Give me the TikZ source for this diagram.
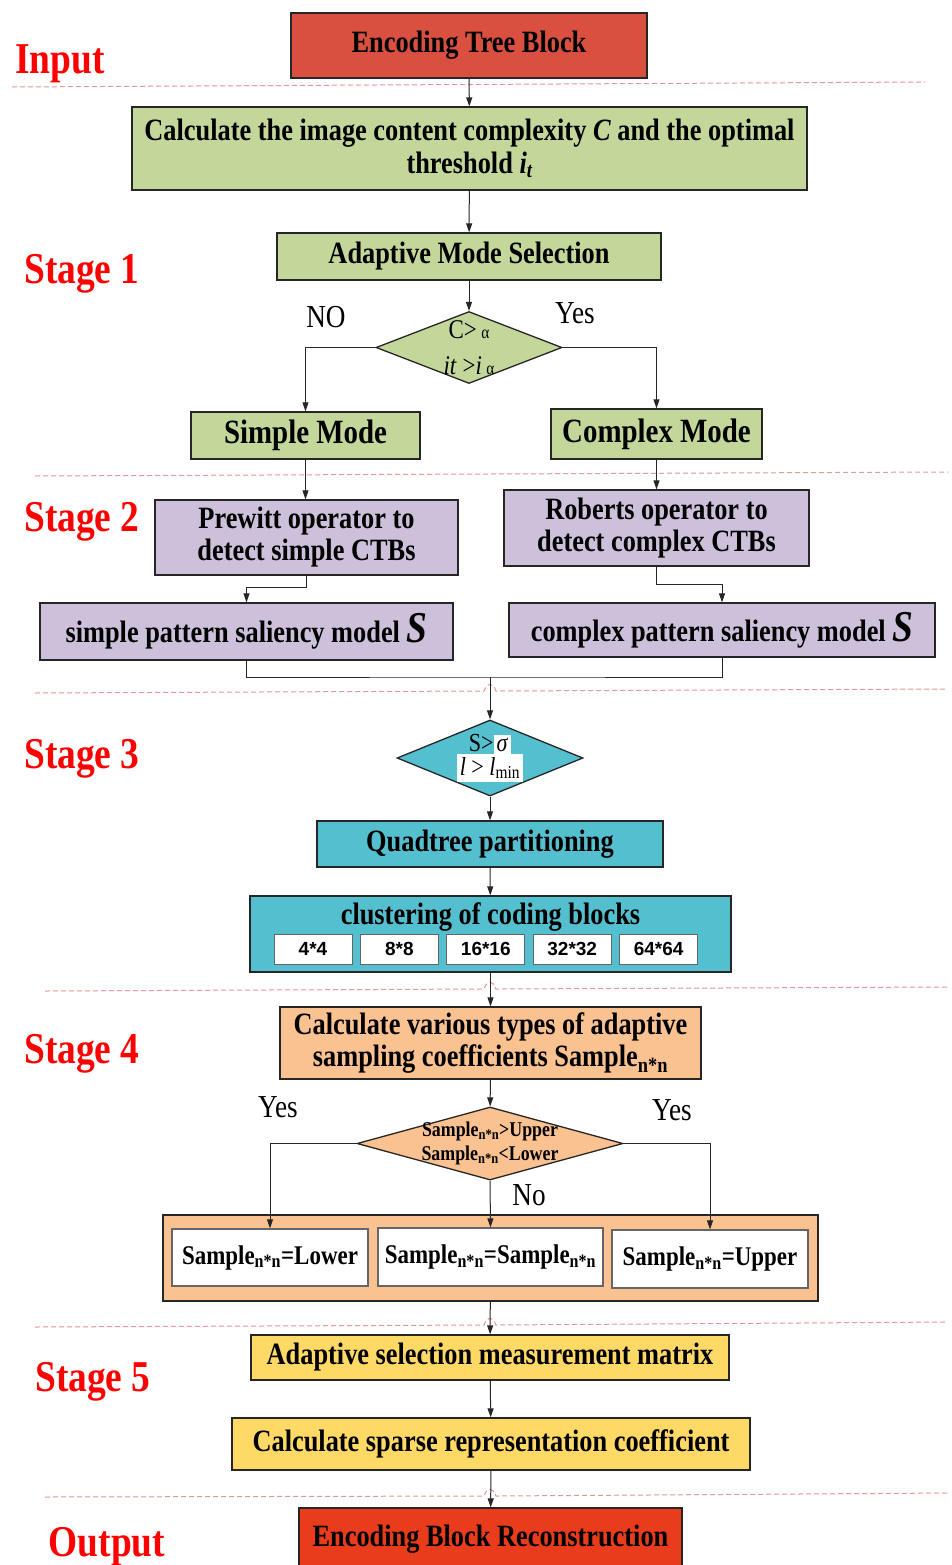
\documentclass[tikz,border=0pt]{standalone}
\usepackage{fontspec}
\setmainfont{Liberation Serif}[FakeStretch=0.85]
\newfontfamily\cellfont{Liberation Sans}
\usetikzlibrary{shapes.geometric, arrows.meta, positioning}

\definecolor{inred}{RGB}{217,80,64}
\definecolor{stgreen}{RGB}{196,215,155}
\definecolor{stpurple}{RGB}{204,192,218}
\definecolor{stblue}{RGB}{84,191,206}
\definecolor{stpeach}{RGB}{250,193,145}
\definecolor{styellow}{RGB}{255,217,102}
\definecolor{outred}{RGB}{232,60,28}
\definecolor{sepline}{RGB}{232,150,150}

\tikzset{
  box/.style={draw=black!85, line width=1.3pt, align=center, inner sep=0pt,
    font=\bfseries\fontsize{31}{32}\selectfont},
  dia/.style={diamond, draw=black!85, line width=1.3pt, inner sep=0pt},
  cell/.style={draw=black!60, line width=1pt, fill=white, minimum width=78,
    minimum height=30, inner sep=0pt, font=\cellfont\bfseries\fontsize{19}{20}\selectfont},
  stage/.style={text=red, font=\bfseries\fontsize{44}{44}\selectfont},
  ans/.style={font=\fontsize{32}{32}\selectfont},
  arr/.style={-{Triangle[length=9pt,width=6pt]}, line width=1pt, black!85},
  link/.style={line width=1pt, black!85},
  sep/.style={sepline, line width=1pt, dash pattern=on 5pt off 3pt}
}

\begin{document}
\begin{tikzpicture}[x=1pt, y=-1pt]
\fill[white] (0,0) rectangle (952,1565);
\useasboundingbox (0,0) rectangle (952,1565);

% separators between the stages
\draw[sep] (12,87) -- (925,82);
\draw[sep] (35,476) -- (948,472);
\draw[sep] (35,693) -- (484,691) .. controls (487,682) and (493,682) .. (496,691) -- (948,689);
\draw[sep] (45,991) -- (484,989) .. controls (487,980) and (493,980) .. (496,989) -- (948,987);
\draw[sep] (35,1327) -- (484,1325) .. controls (487,1316) and (493,1316) .. (496,1325) -- (948,1322);
\draw[sep] (45,1497) -- (484,1496) .. controls (487,1487) and (493,1487) .. (496,1496) -- (948,1493);

% stage names
\node[stage] (lin) at (60,64) {Input};
\node[stage] (ls1) at (82,274) {Stage 1};
\node[stage] (ls2) at (82,522) {Stage 2};
\node[stage] (ls3) at (82,759) {Stage 3};
\node[stage] (ls4) at (82,1054) {Stage 4};
\node[stage] (ls5) at (93,1382) {Stage 5};
\node[stage] (lout) at (107,1547) {Output};

% input and stage 1
\node[box, fill=inred, minimum width=356, minimum height=65] (etb) at (469,45.5) {Encoding Tree Block};
\node[box, fill=stgreen, minimum width=675, minimum height=83,
  font=\bfseries\fontsize{31}{33}\selectfont] (calc) at (469.5,148.5)
  {Calculate the image content complexity \textit{C} and the optimal\\threshold \textit{i\textsubscript{t}}};
\node[box, fill=stgreen, minimum width=384, minimum height=47] (ams) at (469,256.5) {Adaptive Mode Selection};
\node[dia, fill=stgreen, minimum width=186, minimum height=72,
  label={[font=\fontsize{27}{36}\selectfont, align=center]center:{C>\,{\fontsize{18}{18}\selectfont α}\\\textit{it} >\textit{i}\,{\fontsize{18}{18}\selectfont α}}}] (d1) at (469,347.5) {};
\node[ans] (no1) at (326,317) {NO};
\node[ans] (yes1) at (575,313) {Yes};
\node[box, fill=stgreen, minimum width=229, minimum height=47,
  font=\bfseries\fontsize{34}{34}\selectfont] (simple) at (305.5,435.5) {Simple Mode};
\node[box, fill=stgreen, minimum width=211, minimum height=50,
  font=\bfseries\fontsize{34}{34}\selectfont] (complex) at (656.5,434) {Complex Mode};

% stage 2
\node[box, fill=stpurple, minimum width=303, minimum height=75] (prewitt) at (306.5,537.5) {Prewitt operator to\\detect simple CTBs};
\node[box, fill=stpurple, minimum width=305, minimum height=76] (roberts) at (656.5,528) {Roberts operator to\\detect complex CTBs};
\node[box, fill=stpurple, minimum width=413, minimum height=57] (spm) at (246.5,631.5)
  {simple pattern saliency model \textit{\fontsize{44}{44}\selectfont S}};
\node[box, fill=stpurple, minimum width=426, minimum height=54] (cpm) at (722,630)
  {complex pattern saliency model \textit{\fontsize{44}{44}\selectfont S}};
\coordinate (mrg) at (490,677);

% stage 3
\node[dia, fill=stblue, minimum width=186, minimum height=76,
  label={[font=\fontsize{26}{28}\selectfont, align=center, inner sep=0pt]center:{S>\colorbox{white}{\textit{σ}}\\[-4pt]\colorbox{white}{\textit{l} > \textit{l}\textsubscript{min}}}}] (d2) at (490,758) {};
\node[box, fill=stblue, minimum width=346, minimum height=46] (quad) at (490,844) {Quadtree partitioning};
\node[box, fill=stblue, minimum width=481, minimum height=76] (clus) at (490.5,934) {};
\node[font=\bfseries\fontsize{31}{32}\selectfont] (clustxt) at (490.5,917) {clustering of coding blocks};
\foreach \t [count=\i] in {4*4,8*8,16*16,32*32,64*64}
  \node[cell] (c\i) at ({313+86.4*(\i-1)},949) {\t};

% stage 4
\node[box, fill=stpeach, minimum width=421, minimum height=72] (cvt) at (490.5,1043)
  {Calculate various types of adaptive\\sampling coefficients Sample\textsubscript{n*n}};
\node[dia, fill=stpeach, minimum width=266, minimum height=73,
  label={[font=\bfseries\fontsize{21}{24}\selectfont, align=center]center:{Sample\textsubscript{n*n}>Upper\\Sample\textsubscript{n*n}<Lower}}] (d3) at (490,1143.5) {};
\node[ans] (yes2) at (278,1107) {Yes};
\node[ans] (yes3) at (672,1110) {Yes};
\node[ans] (no2) at (529,1195) {No};
\node[box, fill=stpeach, minimum width=655, minimum height=86] (cont) at (490.5,1258) {};
\node[box, fill=white, draw=black!60, minimum width=196, minimum height=57,
  font=\bfseries\fontsize{27}{28}\selectfont] (lower) at (270,1257.5) {Sample\textsubscript{n*n}=Lower};
\node[box, fill=white, draw=black!60, minimum width=225, minimum height=58,
  font=\bfseries\fontsize{27}{28}\selectfont] (mid) at (490.5,1257) {Sample\textsubscript{n*n}=Sample\textsubscript{n*n}};
\node[box, fill=white, draw=black!60, minimum width=196, minimum height=58,
  font=\bfseries\fontsize{27}{28}\selectfont] (upper) at (710,1259) {Sample\textsubscript{n*n}=Upper};

% stage 5 and output
\node[box, fill=styellow, minimum width=478, minimum height=45] (asm) at (490,1357.5) {Adaptive selection measurement matrix};
\node[box, fill=styellow, minimum width=518, minimum height=52] (csr) at (491,1444) {Calculate sparse representation coefficient};
\node[box, fill=outred, minimum width=383, minimum height=62] (out) at (490.5,1539) {Encoding Block Reconstruction};

% connectors
\draw[arr] (etb) -- (calc);
\draw[arr] (calc) -- (ams);
\draw[arr] (ams) -- (d1);
\draw[arr] (d1.west) -| (simple.north);
\draw[arr] (d1.east) -| (complex.north);
\draw[arr] (simple.south) -- (simple.south |- prewitt.north);
\draw[arr] (complex.south) -- (complex.south |- roberts.north);
\draw[arr] (prewitt.south) -- ++(0,12) -| (spm.north);
\draw[arr] (roberts.south) -- ++(0,18) -| (cpm.north);
\draw[link] (spm.south) |- (mrg) -| (cpm.south);
\draw[arr] (mrg) -- (d2.north);
\draw[arr] (d2) -- (quad);
\draw[arr] (quad) -- (clus);
\draw[arr] (clus) -- (cvt);
\draw[arr] (cvt) -- (d3);
\draw[arr] (d3.west) -| (lower.north);
\draw[arr] (d3.east) -| (upper.north);
\draw[arr] (d3.south) -- (mid.north);
\draw[arr] (cont) -- (asm);
\draw[arr] (asm) -- (csr);
\draw[arr] (csr) -- (out);
\end{tikzpicture}
\end{document}
